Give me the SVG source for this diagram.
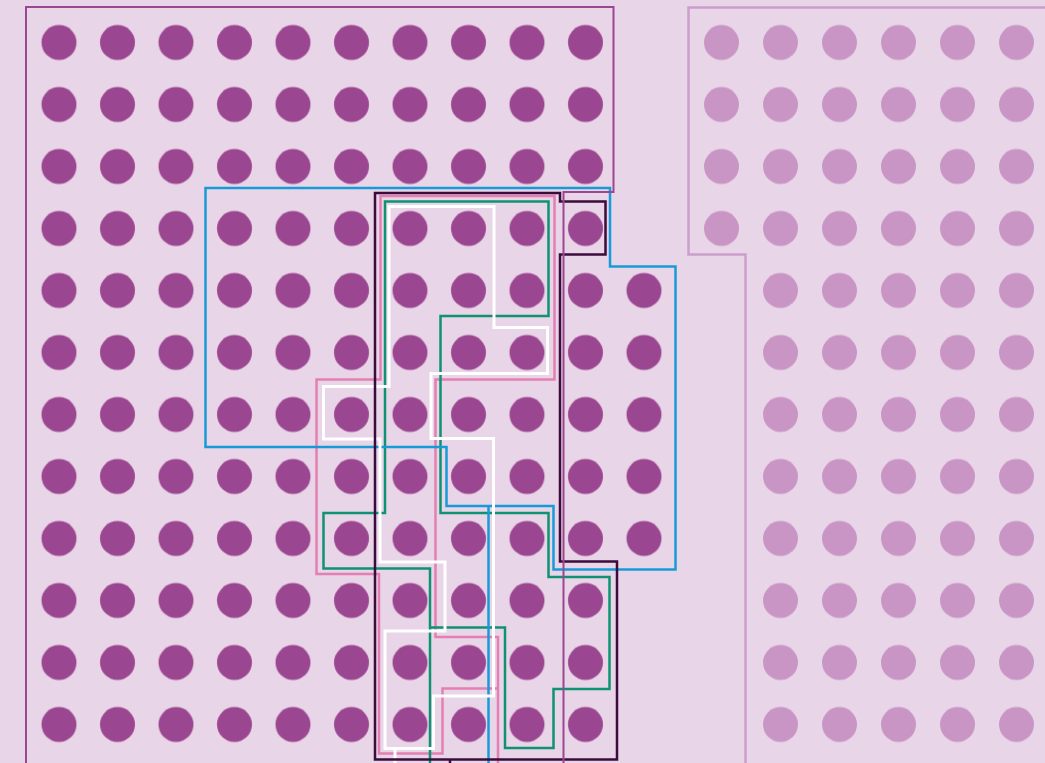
<svg xmlns="http://www.w3.org/2000/svg" width="1045" height="763" viewBox="0 0 1045 763">
<style>
.o{fill:none;stroke-linejoin:miter;stroke-linecap:butt}
.purple{stroke:#9b4690;stroke-width:2}
.light{stroke:#cc9ecb;stroke-width:2.5}
.blue{stroke:#179bd7;stroke-width:2.5}
.dark{stroke:#3b0b3b;stroke-width:2.5}
.pink{stroke:#e47fb1;stroke-width:2.5}
.green{stroke:#0e9271;stroke-width:2.5}
.white{stroke:#ffffff;stroke-width:3}
</style>
<defs>
<pattern id="pd" patternUnits="userSpaceOnUse" x="29.75" y="11.5" width="58.5" height="62">
<circle cx="29.25" cy="31" r="17.5" fill="#9b4690"/>
</pattern>
<pattern id="pl" patternUnits="userSpaceOnUse" x="692" y="11.5" width="59" height="62">
<circle cx="29.5" cy="31" r="17.5" fill="#c995c5"/>
</pattern>
</defs>
<rect width="1045" height="763" fill="#e9d5e8"/>
<g id="dots-dark">
<rect x="29.75" y="11.5" width="585" height="744" fill="url(#pd)"/>
<rect x="614.75" y="259.5" width="58.5" height="310" fill="url(#pd)"/>
</g>
<g id="dots-light">
<rect x="692" y="11.5" width="354" height="248" fill="url(#pl)"/>
<rect x="751" y="259.5" width="295" height="496" fill="url(#pl)"/>
</g>
<g id="outlines">
<path id="light-region" class="o light" d="M1046,7.5 H688.5 V254.5 H745.5 V764"/>
<path id="pink-region" class="o pink" d="M498,764 V637 H435.5 V379.5 H554.5 V196 H380.5 V379.5 H316.5 V574 H379 V753.5 H442.5 V688.5 H498"/>
<path id="green-region" class="o green" d="M430,764 V568.5 H323.5 V513 H385 V201.5 H548.5 V316 H440.5 V513 H548.5 V577 H609.5 V689 H553.5 V748 H505 V627.5 H430"/>
<path id="blue-region" class="o blue" d="M205.5,188 H610 V266.5 H675.5 V569.5 H553.5 V506 H446.5 V447 H205.5 Z M488.5,506 V764"/>
<path id="white-region" class="o white" d="M395,764 V748.5 H385 V631 H445 V562 H380 V439 H323.5 V386.5 H389 V206.5 H494 V327.5 H547.5 V373.5 H431 V438.5 H493.5 V696 H433.5 V748.5 H395"/>
<path id="dark-region" class="o dark" d="M450,764 V759.5 H617 V561.5 H560 V254.5 H605.5 V201.5 H560 V193 H375 V759.5 H450"/>
<path id="purple-region" class="o purple" d="M26,764 V7 H613.5 V192 H563.5 V764"/>
</g>
</svg>
